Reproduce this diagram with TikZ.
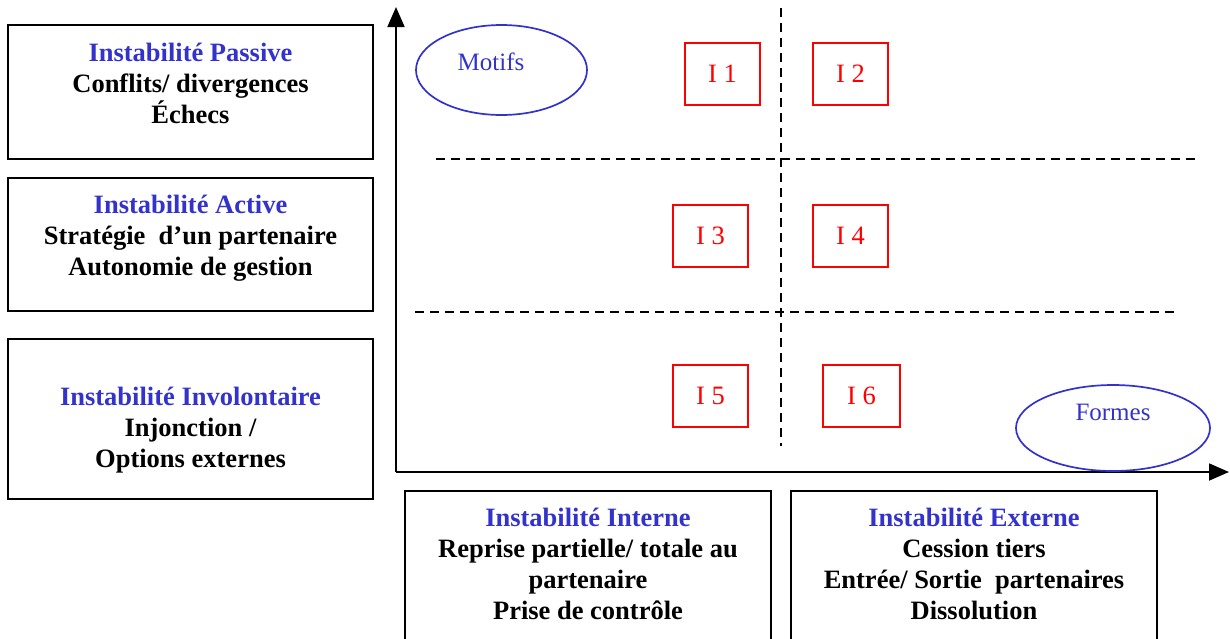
\documentclass[tikz,border=0pt]{standalone}
\usepackage{fontspec}
\setmainfont{Liberation Serif}
\usetikzlibrary{arrows.meta,shapes.geometric}
\definecolor{titleblue}{RGB}{51,51,204}
\definecolor{cellred}{RGB}{255,0,0}
\tikzset{
  catbox/.style={draw=black, line width=1.6pt, minimum width=365pt, inner sep=0pt},
  cattext/.style={align=center, font=\fontsize{26.5}{31}\selectfont\bfseries, inner sep=0pt},
  cell/.style={draw=cellred, line width=1.4pt, text=cellred, minimum width=75pt, minimum height=62pt, inner sep=0pt, font=\fontsize{26.5}{31}\selectfont},
  oval/.style={ellipse, draw=titleblue, line width=1.7pt, text=titleblue, inner sep=0pt, font=\fontsize{25}{30}\selectfont},
  axis/.style={line width=1.8pt, -{Triangle[length=20pt,width=17pt]}},
  divider/.style={line width=1.5pt, dash pattern=on 9pt off 6pt}
}
\begin{document}
\begin{tikzpicture}[x=1pt,y=-1pt]
\useasboundingbox (0,0) rectangle (1230,638);

% categories of instability (vertical axis)
\node[catbox, minimum height=134pt] (passive) at (190.5,92) {};
\node[cattext] (passivet) at (190.5,83) {\textcolor{titleblue}{Instabilité Passive}\\Conflits/ divergences\\Échecs};
\node[catbox, minimum height=133pt] (active) at (190.5,244.5) {};
\node[cattext] (activet) at (190.5,238) {\textcolor{titleblue}{Instabilité Active}\\Stratégie\ \ d’un partenaire\\Autonomie de gestion};
\node[catbox, minimum height=160pt] (invol) at (190.5,419) {};
\node[cattext] (involt) at (190.5,430) {\textcolor{titleblue}{Instabilité Involontaire}\\Injonction /\\Options externes};

% categories of instability (horizontal axis)
\node[catbox, minimum width=366pt, minimum height=160pt, anchor=north] (interne) at (588,490) {};
\node[cattext] (internet) at (588,564) {\textcolor{titleblue}{Instabilité Interne}\\Reprise partielle/ totale au\\partenaire\\Prise de contrôle};
\node[catbox, minimum width=366pt, minimum height=160pt, anchor=north] (externe) at (974,490) {};
\node[cattext] (externet) at (974,564) {\textcolor{titleblue}{Instabilité Externe}\\Cession tiers\\Entrée/ Sortie\ \ partenaires\\Dissolution};

% axes
\coordinate (origin) at (396,472);
\coordinate (ytip) at (396,7);
\coordinate (xtip) at (1229,472);
\draw[axis] (origin) -- (ytip);
\draw[axis] (origin) -- (xtip);

% grid of dashed dividers
\coordinate (vtop) at (781,8);
\coordinate (vbot) at (781,446);
\coordinate (h1l) at (436,159);
\coordinate (h1r) at (1200,159);
\coordinate (h2l) at (415,312);
\coordinate (h2r) at (1178,312);
\draw[divider] (vtop) -- (vbot);
\draw[divider] (h1l) -- (h1r);
\draw[divider] (h2l) -- (h2r);

% axis labels
\node[oval, minimum width=171pt, minimum height=90pt] (motifs) at (501.5,70) {};
\node[text=titleblue, font=\fontsize{25}{30}\selectfont, inner sep=0pt] (motifst) at (491,62) {Motifs};
\node[oval, minimum width=194pt, minimum height=86pt] (formes) at (1113,428) {};
\node[text=titleblue, font=\fontsize{25}{30}\selectfont, inner sep=0pt] (formest) at (1113,412) {Formes};

% cells
\node[cell] (i1) at (722.5,74) {I 1};
\node[cell] (i2) at (850.5,74) {I 2};
\node[cell] (i3) at (710.5,236) {I 3};
\node[cell] (i4) at (850.5,236) {I 4};
\node[cell] (i5) at (710.5,396) {I 5};
\node[cell, minimum width=77pt] (i6) at (861.5,396) {I 6};
\end{tikzpicture}
\end{document}
